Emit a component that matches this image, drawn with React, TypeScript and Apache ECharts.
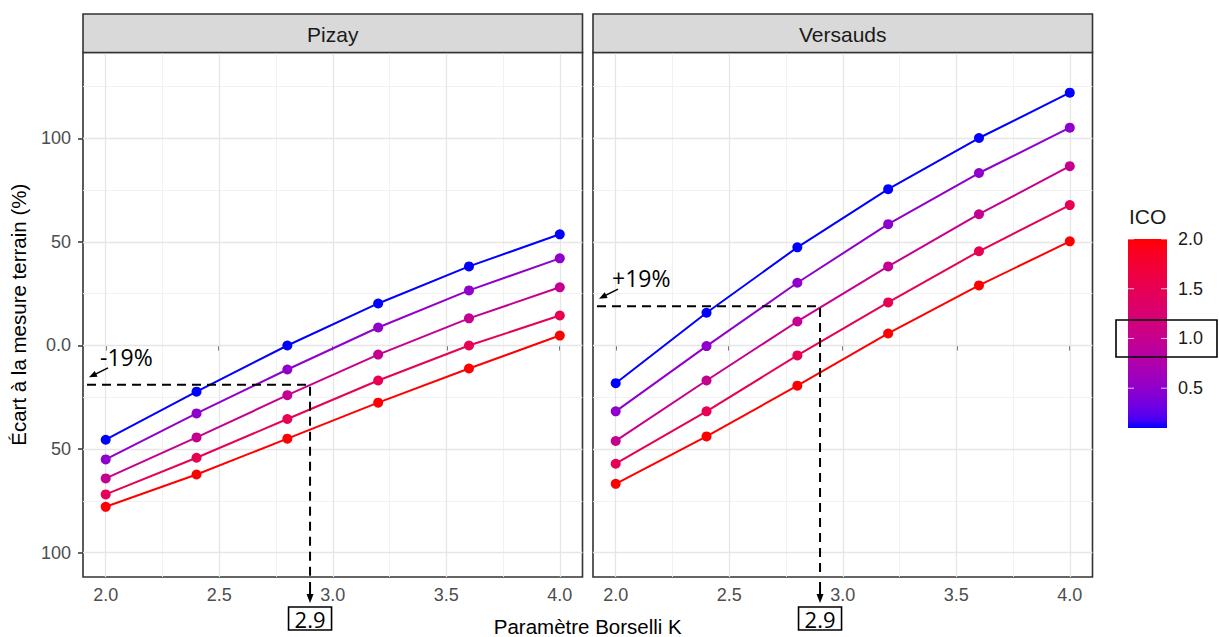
import React, { useEffect, useRef } from "react";
import * as echarts from "echarts";

// ---------- data ----------
const kValues = [2.0, 2.4, 2.8, 3.2, 3.6, 4.0];
const icoLevels = [0.1, 0.5, 1.0, 1.5, 2.0];
const facetNames = ["Pizay", "Versauds"];

const pizayIco01 = [-45.5, -22.3, 0.0, 20.3, 38.2, 53.7];
const pizayIco05 = [-55.0, -32.8, -11.6, 8.7, 26.6, 42.1];
const pizayIco10 = [-64.2, -44.4, -24.0, -4.4, 13.1, 28.1];
const pizayIco15 = [-71.9, -54.2, -35.5, -16.9, 0.0, 14.5];
const pizayIco20 = [-77.9, -62.3, -45.0, -27.6, -11.1, 4.8];

const versaudsIco01 = [-18.2, 15.8, 47.4, 75.5, 100.2, 122.1];
const versaudsIco05 = [-31.8, -0.3, 30.3, 58.6, 83.3, 105.2];
const versaudsIco10 = [-46.1, -16.9, 11.6, 38.2, 63.4, 86.6];
const versaudsIco15 = [-57.1, -31.8, -4.8, 20.8, 45.5, 67.8];
const versaudsIco20 = [-66.8, -43.9, -19.4, 5.8, 29.0, 50.3];

const pizaySeries = [pizayIco01, pizayIco05, pizayIco10, pizayIco15, pizayIco20];
const versaudsSeries = [versaudsIco01, versaudsIco05, versaudsIco10, versaudsIco15, versaudsIco20];

const xTicks = [2.0, 2.5, 3.0, 3.5, 4.0];
const xMinor = [2.25, 2.75, 3.25, 3.75];
const yTicks = [-100, -50, 0, 50, 100];
const yMinor = [-75, -25, 25, 75, 125];
const xRange = [1.9, 4.1];
const yRange = [-111.8, 141.5];

const legendBreaks = [0.5, 1.0, 1.5, 2.0];
const icoRange = [0.1, 2.0];
const highlightedBreak = 1.0;

const annotK = 2.9;
const gapValues = [-19, 19];
const gapLabels = ["-19%", "+19%"];

const lowColor = "#0000FF";
const highColor = "#FF0000";

// ---------- colour (Lab interpolation like ggplot) ----------
function toLin(c: number) {
  c /= 255;
  return c <= 0.04045 ? c / 12.92 : Math.pow((c + 0.055) / 1.055, 2.4);
}
function fromLin(c: number) {
  const v = c <= 0.0031308 ? 12.92 * c : 1.055 * Math.pow(Math.max(c, 0), 1 / 2.4) - 0.055;
  return Math.max(0, Math.min(255, Math.round(v * 255)));
}
const Xn = 0.95047, Yn = 1.0, Zn = 1.08883;
function fLab(t: number) {
  return t > 0.008856 ? Math.cbrt(t) : 7.787 * t + 16 / 116;
}
function fInv(t: number) {
  const t3 = t * t * t;
  return t3 > 0.008856 ? t3 : (t - 16 / 116) / 7.787;
}
function hexToLab(hex: string) {
  const r = toLin(parseInt(hex.slice(1, 3), 16));
  const g = toLin(parseInt(hex.slice(3, 5), 16));
  const b = toLin(parseInt(hex.slice(5, 7), 16));
  const X = 0.4124 * r + 0.3576 * g + 0.1805 * b;
  const Y = 0.2126 * r + 0.7152 * g + 0.0722 * b;
  const Z = 0.0193 * r + 0.1192 * g + 0.9505 * b;
  const fx = fLab(X / Xn), fy = fLab(Y / Yn), fz = fLab(Z / Zn);
  return [116 * fy - 16, 500 * (fx - fy), 200 * (fy - fz)];
}
function labToHex(L: number, a: number, bb: number) {
  const fy = (L + 16) / 116;
  const fx = fy + a / 500;
  const fz = fy - bb / 200;
  const X = Xn * fInv(fx), Y = Yn * fInv(fy), Z = Zn * fInv(fz);
  const r = 3.2406 * X - 1.5372 * Y - 0.4986 * Z;
  const g = -0.9689 * X + 1.8758 * Y + 0.0415 * Z;
  const b = 0.0557 * X - 0.204 * Y + 1.057 * Z;
  const h = (v: number) => fromLin(v).toString(16).padStart(2, "0");
  return "#" + h(r) + h(g) + h(b);
}
const labLow = hexToLab(lowColor);
const labHigh = hexToLab(highColor);
function icoColor(v: number) {
  const t = Math.max(0, Math.min(1, (v - icoRange[0]) / (icoRange[1] - icoRange[0])));
  return labToHex(
    labLow[0] + (labHigh[0] - labLow[0]) * t,
    labLow[1] + (labHigh[1] - labLow[1]) * t,
    labLow[2] + (labHigh[2] - labLow[2]) * t
  );
}

// ---------- layout ----------
const AXIS_FONT = "'Liberation Sans', Arial, sans-serif";
const ANNOT_FONT = "'Open Sans', 'Liberation Sans', sans-serif";
const gridTop = 52.5;
const gridHeight = 524.5;
const gridLefts = [83, 593];
const gridWidth = 499.5;

function buildOption() {
  const grids = gridLefts.map((left) => ({
    left,
    top: gridTop,
    width: gridWidth,
    height: gridHeight,
    show: true,
    backgroundColor: "#fff",
    borderColor: "#333333",
    borderWidth: 1.6,
    containLabel: false,
  }));
  const xAxes = gridLefts.map((_, i) => ({
    type: "value",
    gridIndex: i,
    min: xRange[0],
    max: xRange[1],
    axisLine: { show: false },
    axisTick: {
      show: true,
      customValues: xTicks,
      length: 5,
      lineStyle: { color: "#333333", width: 1.5 },
    },
    axisLabel: {
      show: true,
      customValues: xTicks,
      formatter: (v: number) => v.toFixed(1),
      color: "#4D4D4D",
      fontSize: 18,
      fontFamily: AXIS_FONT,
      margin: 9,
    },
    splitLine: { show: false },
  }));
  const yAxes = gridLefts.map((_, i) => ({
    type: "value",
    gridIndex: i,
    min: yRange[0],
    max: yRange[1],
    axisLine: { show: false },
    axisTick: {
      show: i === 0,
      customValues: yTicks,
      length: 5,
      lineStyle: { color: "#333333", width: 1.5 },
    },
    axisLabel: {
      show: i === 0,
      customValues: yTicks,
      formatter: (v: number) => (v === 0 ? "0.0" : String(Math.abs(v))),
      color: "#4D4D4D",
      fontSize: 18,
      fontFamily: AXIS_FONT,
      margin: 12,
    },
    splitLine: { show: false },
  }));

  const series: any[] = [];
  gridLefts.forEach((_, i) => {
    const major = { color: "#E6E6E6", width: 1.3, type: "solid" };
    const minor = { color: "#F1F1F1", width: 0.9, type: "solid" };
    series.push({
      type: "line",
      xAxisIndex: i,
      yAxisIndex: i,
      data: [],
      z: 1,
      silent: true,
      markLine: {
        z: 1,
        silent: true,
        symbol: ["none", "none"],
        label: { show: false },
        emphasis: { disabled: true },
        animation: false,
        data: [
          ...xMinor.map((v) => ({ xAxis: v, lineStyle: minor })),
          ...yMinor.map((v) => ({ yAxis: v, lineStyle: minor })),
          ...xTicks.map((v) => ({ xAxis: v, lineStyle: major })),
          ...yTicks.map((v) => ({ yAxis: v, lineStyle: major })),
        ],
      },
    });
  });
  const facets = [pizaySeries, versaudsSeries];
  facets.forEach((list, i) => {
    list.forEach((vals, j) => {
      const c = icoColor(icoLevels[j]);
      series.push({
        type: "line",
        name: facetNames[i] + " ICO " + icoLevels[j],
        xAxisIndex: i,
        yAxisIndex: i,
        data: kValues.map((k, n) => [k, vals[n]]),
        symbol: "circle",
        symbolSize: 10,
        showSymbol: true,
        lineStyle: { color: c, width: 2 },
        itemStyle: { color: c, borderWidth: 0 },
        emphasis: { disabled: true },
        z: 10 + (list.length - j),
      });
    });
  });

  return {
    animation: false,
    backgroundColor: "#ffffff",
    grid: grids,
    xAxis: xAxes,
    yAxis: yAxes,
    series,
  };
}

function arrowHead(tip: number[], from: number[], len: number, half: number) {
  const dx = tip[0] - from[0], dy = tip[1] - from[1];
  const d = Math.hypot(dx, dy) || 1;
  const ux = dx / d, uy = dy / d;
  const bx = tip[0] - ux * len, by = tip[1] - uy * len;
  return [tip, [bx - uy * half, by + ux * half], [bx + uy * half, by - ux * half]];
}

function buildGraphic(chart: any) {
  const els: any[] = [];
  // strips
  gridLefts.forEach((left, i) => {
    els.push({
      type: "rect",
      shape: { x: left, y: 14, width: gridWidth, height: gridTop - 14 },
      style: { fill: "#D9D9D9", stroke: "#333333", lineWidth: 1.6 },
      z: 10,
    });
    els.push({
      type: "text",
      x: left + gridWidth / 2,
      y: (14 + gridTop) / 2 + 1,
      style: {
        text: facetNames[i],
        fill: "#1A1A1A",
        font: "21px " + AXIS_FONT,
        textAlign: "center",
        textVerticalAlign: "middle",
      },
      z: 11,
    });
  });
  // axis titles
  els.push({
    type: "text",
    x: 18,
    y: gridTop + gridHeight / 2,
    rotation: Math.PI / 2,
    style: {
      text: "Écart à la mesure terrain (%)",
      fill: "#000",
      font: "20.5px " + AXIS_FONT,
      textAlign: "center",
      textVerticalAlign: "middle",
    },
    z: 10,
  });
  els.push({
    type: "text",
    x: (gridLefts[0] + gridLefts[1] + gridWidth) / 2,
    y: 626,
    style: {
      text: "Paramètre Borselli K",
      fill: "#000",
      font: "20.5px " + AXIS_FONT,
      textAlign: "center",
      textVerticalAlign: "middle",
    },
    z: 10,
  });

  // annotations
  gapValues.forEach((gv, i) => {
    const finder = { gridIndex: i };
    const pStart = chart.convertToPixel(finder, [xRange[0], gv]);
    const pCorner = chart.convertToPixel(finder, [annotK, gv]);
    const pBottom = chart.convertToPixel(finder, [annotK, yRange[0]]);
    const x0 = pStart[0] + 4;
    els.push({
      type: "polyline",
      shape: { points: [[x0, pCorner[1]], [pCorner[0], pCorner[1]], [pCorner[0], pBottom[1]]] },
      style: { stroke: "#000", lineWidth: 2, lineDash: [9, 6], fill: null },
      z: 20,
    });
    const tipY = pBottom[1] + 26;
    els.push({
      type: "line",
      shape: { x1: pCorner[0], y1: pBottom[1] + 5, x2: pCorner[0], y2: tipY - 4 },
      style: { stroke: "#000", lineWidth: 2 },
      z: 20,
    });
    els.push({
      type: "polygon",
      shape: { points: arrowHead([pCorner[0], tipY], [pCorner[0], tipY - 10], 9, 3.5) },
      style: { fill: "#000" },
      z: 20,
    });
    // value box
    els.push({
      type: "rect",
      shape: { x: pCorner[0] - 21.5, y: pBottom[1] + 30, width: 43, height: 23 },
      style: { fill: "#fff", stroke: "#000", lineWidth: 1.6 },
      z: 20,
    });
    els.push({
      type: "text",
      x: pCorner[0],
      y: pBottom[1] + 41.5,
      style: {
        text: String(annotK),
        fill: "#000",
        font: "22px " + ANNOT_FONT,
        textAlign: "center",
        textVerticalAlign: "middle",
      },
      z: 21,
    });
    // percentage label + arrow
    const lx = pStart[0];
    const ly = pCorner[1];
    const tail = [lx + 25, ly - 17];
    const tip = [lx + 6, ly - 7.5];
    els.push({
      type: "line",
      shape: { x1: tail[0], y1: tail[1], x2: tip[0] + 4, y2: tip[1] - 2 },
      style: { stroke: "#000", lineWidth: 1.6 },
      z: 20,
    });
    els.push({
      type: "polygon",
      shape: { points: arrowHead(tip, tail, 8, 3.2) },
      style: { fill: "#000" },
      z: 20,
    });
    els.push({
      type: "text",
      x: lx + (i === 0 ? 17 : 19),
      y: ly - 28,
      style: {
        text: gapLabels[i],
        fill: "#000",
        font: "23px " + ANNOT_FONT,
        textAlign: "left",
        textVerticalAlign: "middle",
      },
      z: 21,
    });
  });

  // colour bar legend
  const barX = 1128, barW = 39, barTop = 239, barBottom = 428;
  const valToY = (v: number) =>
    barBottom - ((v - icoRange[0]) / (icoRange[1] - icoRange[0])) * (barBottom - barTop);
  const stops: any[] = [];
  const nStops = 24;
  for (let s = 0; s <= nStops; s++) {
    const t = s / nStops;
    stops.push({ offset: t, color: icoColor(icoRange[0] + t * (icoRange[1] - icoRange[0])) });
  }
  els.push({
    type: "rect",
    shape: { x: barX, y: barTop, width: barW, height: barBottom - barTop },
    style: {
      fill: { type: "linear", x: 0, y: 1, x2: 0, y2: 0, colorStops: stops, global: false },
    },
    z: 10,
  });
  legendBreaks.forEach((b) => {
    const y = valToY(b);
    els.push({
      type: "line",
      shape: { x1: barX, y1: y, x2: barX + 6, y2: y },
      style: { stroke: "rgba(255,255,255,0.75)", lineWidth: 1 },
      z: 11,
    });
    els.push({
      type: "line",
      shape: { x1: barX + barW - 6, y1: y, x2: barX + barW, y2: y },
      style: { stroke: "rgba(255,255,255,0.75)", lineWidth: 1 },
      z: 11,
    });
    els.push({
      type: "text",
      x: barX + barW + 11,
      y: y,
      style: {
        text: b.toFixed(1),
        fill: "#1A1A1A",
        font: "18px " + AXIS_FONT,
        textAlign: "left",
        textVerticalAlign: "middle",
      },
      z: 11,
    });
  });
  els.push({
    type: "text",
    x: barX + 1,
    y: 216,
    style: {
      text: "ICO",
      fill: "#1A1A1A",
      font: "21px " + AXIS_FONT,
      textAlign: "left",
      textVerticalAlign: "middle",
    },
    z: 11,
  });
  const hy = valToY(highlightedBreak);
  els.push({
    type: "rect",
    shape: { x: 1116, y: hy - 18.5, width: 101, height: 37 },
    style: { fill: null, stroke: "#000", lineWidth: 1.6 },
    z: 12,
  });
  return els;
}

export default function App() {
  const ref = useRef<HTMLDivElement>(null);
  useEffect(() => {
    if (!ref.current) return;
    const chart = echarts.init(ref.current, undefined, { renderer: "svg" });
    chart.setOption(buildOption() as any);
    chart.setOption({ graphic: buildGraphic(chart) } as any);
    return () => chart.dispose();
  }, []);
  return (
    <div
      ref={ref}
      style={{ position: "fixed", left: 0, top: 0, width: 1219, height: 637, background: "#fff" }}
    />
  );
}
